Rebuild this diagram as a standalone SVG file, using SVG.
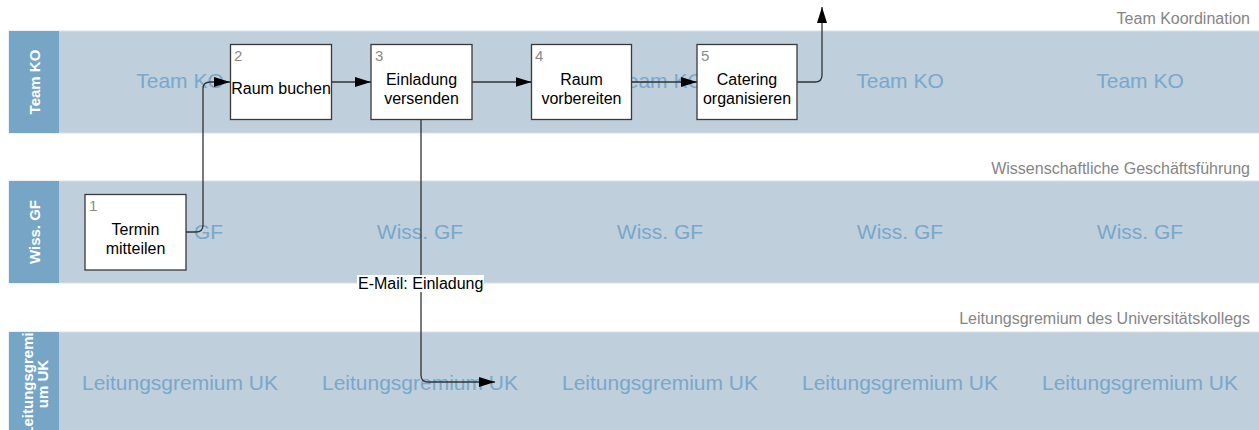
<svg xmlns="http://www.w3.org/2000/svg" width="1259" height="430" viewBox="0 0 1259 430">
<defs>
<style>
.band{fill:#bfcfdc;stroke:#d6e1ea;stroke-width:1}
.hdr{fill:#77a5c6}
.htxt{font-family:"Liberation Sans",Arial,sans-serif;font-size:15px;font-weight:bold;fill:#ffffff;text-anchor:middle}
.wm{font-family:"Liberation Sans",Arial,sans-serif;font-size:21px;fill:#78a8ca;text-anchor:middle}
.title{font-family:"Liberation Sans",Arial,sans-serif;font-size:16px;fill:#858585;text-anchor:end}
.box{fill:#ffffff;stroke:#3a3a3a;stroke-width:1.3}
.num{font-family:"Liberation Sans",Arial,sans-serif;font-size:15px;fill:#8a8a8a}
.txt{font-family:"Liberation Sans",Arial,sans-serif;font-size:16px;fill:#000000;text-anchor:middle}
.con{fill:none;stroke:#333333;stroke-width:1.3}
.lbl{font-family:"Liberation Sans",Arial,sans-serif;font-size:16px;fill:#000000}
</style>
<marker id="arr" markerUnits="userSpaceOnUse" markerWidth="18" markerHeight="12" refX="16" refY="5" orient="auto">
<path d="M0,0 L16,5 L0,10 Z" fill="#000000"/>
</marker>
</defs>
<rect width="1259" height="430" fill="#ffffff"/>

<g id="lane-ko">
<rect class="band" x="9" y="31" width="1251" height="102"/>
<rect class="hdr" x="9" y="31" width="50" height="102"/>
<text class="htxt" transform="translate(39.5,82) rotate(-90)">Team KO</text>
<text class="title" x="1250" y="24">Team Koordination</text>
<text class="wm" x="180" y="88">Team KO</text>
<text class="wm" x="420" y="88">Team KO</text>
<text class="wm" x="660" y="88">Team KO</text>
<text class="wm" x="900" y="88">Team KO</text>
<text class="wm" x="1140" y="88">Team KO</text>
</g>

<g id="lane-gf">
<rect class="band" x="9" y="181" width="1251" height="102"/>
<rect class="hdr" x="9" y="181" width="50" height="102"/>
<text class="htxt" transform="translate(39.5,232) rotate(-90)">Wiss. GF</text>
<text class="title" x="1250" y="174">Wissenschaftliche Geschäftsführung</text>
<text class="wm" x="180" y="239">Wiss. GF</text>
<text class="wm" x="420" y="239">Wiss. GF</text>
<text class="wm" x="660" y="239">Wiss. GF</text>
<text class="wm" x="900" y="239">Wiss. GF</text>
<text class="wm" x="1140" y="239">Wiss. GF</text>
</g>

<g id="lane-uk">
<rect class="band" x="9" y="332" width="1251" height="102"/>
<rect class="hdr" x="9" y="332" width="50" height="102"/>
<text class="htxt" transform="translate(33,384) rotate(-90)">Leitungsgremi</text>
<text class="htxt" transform="translate(48,384) rotate(-90)">um UK</text>
<text class="title" x="1250" y="324">Leitungsgremium des Universitätskollegs</text>
<text class="wm" x="180" y="390">Leitungsgremium UK</text>
<text class="wm" x="420" y="390">Leitungsgremium UK</text>
<text class="wm" x="660" y="390">Leitungsgremium UK</text>
<text class="wm" x="900" y="390">Leitungsgremium UK</text>
<text class="wm" x="1140" y="390">Leitungsgremium UK</text>
</g>

<g id="node1">
<rect class="box" x="85" y="194.5" width="101" height="75.5"/>
<text class="num" x="89" y="211">1</text>
<text class="txt" x="135.5" y="235">Termin</text>
<text class="txt" x="135.5" y="254">mitteilen</text>
</g>
<g id="node2">
<rect class="box" x="230.5" y="44.5" width="101" height="75"/>
<text class="num" x="234" y="61">2</text>
<text class="txt" x="281" y="94">Raum buchen</text>
</g>
<g id="node3">
<rect class="box" x="371" y="44.5" width="101" height="75"/>
<text class="num" x="375" y="61">3</text>
<text class="txt" x="421.5" y="85">Einladung</text>
<text class="txt" x="421.5" y="104">versenden</text>
</g>
<g id="node4">
<rect class="box" x="531.5" y="44.5" width="100" height="75"/>
<text class="num" x="535" y="61">4</text>
<text class="txt" x="581.5" y="85">Raum</text>
<text class="txt" x="581.5" y="104">vorbereiten</text>
</g>
<g id="node5">
<rect class="box" x="697" y="44.5" width="100" height="75"/>
<text class="num" x="701" y="61">5</text>
<text class="txt" x="747" y="85">Catering</text>
<text class="txt" x="747" y="104">organisieren</text>
</g>

<g id="connectors">
<path class="con" d="M186,232 H196 Q203,232 203,225 V89 Q203,82 210,82 H230" marker-end="url(#arr)"/>
<path class="con" d="M331.5,82 H371" marker-end="url(#arr)"/>
<path class="con" d="M472,82 H531.5" marker-end="url(#arr)"/>
<path class="con" d="M631.5,82 H697" marker-end="url(#arr)"/>
<path class="con" d="M797,82 H815 Q822,82 822,75 V7" marker-end="url(#arr)"/>
<path class="con" d="M421,119.5 V375 Q421,382 428,382 H495" marker-end="url(#arr)"/>
<rect x="357" y="275" width="127" height="17" fill="#ffffff"/>
<text class="lbl" x="358" y="289">E-Mail: Einladung</text>
</g>
</svg>
